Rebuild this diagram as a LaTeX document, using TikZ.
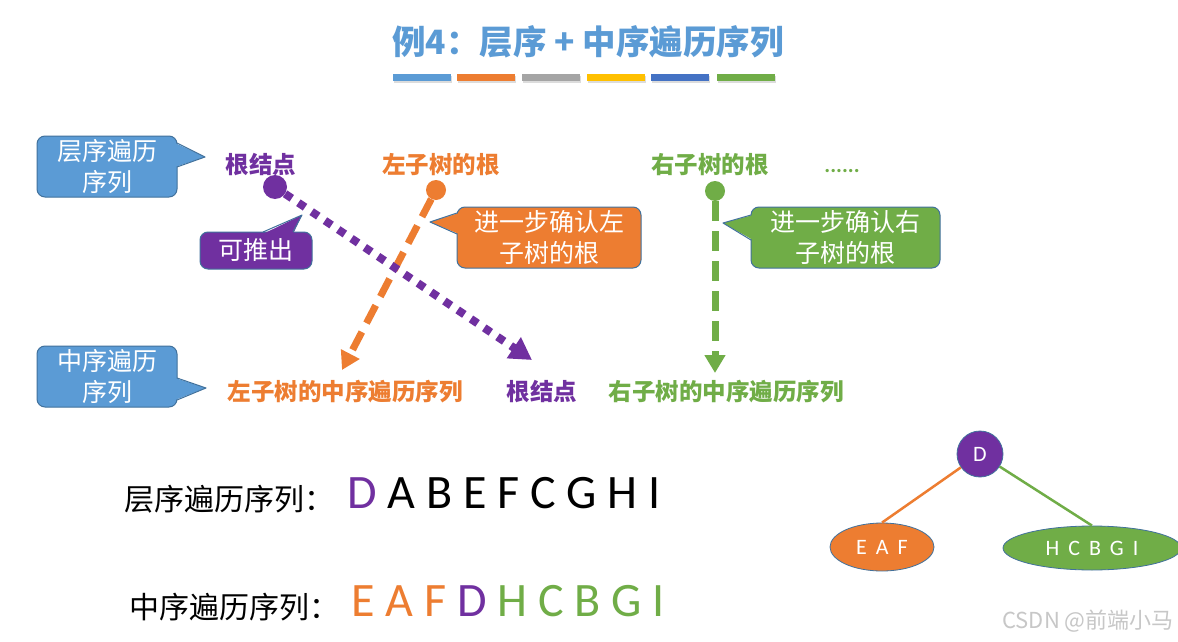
\documentclass[tikz,border=0pt]{standalone}
\usepackage{fontspec}
\setmainfont{Carlito}
\newfontfamily\cjk{Noto Sans CJK SC}
\usetikzlibrary{arrows.meta,shapes.geometric}
\definecolor{tblue}{HTML}{5B9BD5}
\definecolor{corange}{HTML}{ED7D31}
\definecolor{cgray}{HTML}{A5A5A5}
\definecolor{cyellow}{HTML}{FFC000}
\definecolor{cdblue}{HTML}{4472C4}
\definecolor{cgreen}{HTML}{70AD47}
\definecolor{cpurple}{HTML}{7030A0}
\definecolor{cborder}{HTML}{41719C}
\tikzset{
  cbox/.style={draw=cborder, line width=1pt, rounded corners=8pt, text=white,
    font=\cjk\fontsize{25}{31}\selectfont, align=center, inner sep=0pt},
  ptr/.style={draw=cborder, line width=1pt, line join=round},
  lbl/.style={font=\cjk\bfseries\fontsize{23.5}{27}\selectfont, inner sep=0pt},
  bigcn/.style={font=\cjk\fontsize{30}{34}\selectfont, inner sep=0pt, anchor=base west},
  bigltr/.style={font=\fontsize{48}{54}\selectfont, inner sep=0pt, anchor=base west},
  dotnode/.style={circle, inner sep=0pt},
  barshadow/.style={fill=black!30, opacity=0.45},
  treenode/.style={draw=cborder, line width=0.8pt, inner sep=0pt, text=white, font=\fontsize{22}{26}\selectfont},
}
\begin{document}
\begin{tikzpicture}[x=1pt,y=-1pt]
\useasboundingbox[fill=white] (0,0) rectangle (1178,642);

% title
\node[font=\cjk\bfseries\fontsize{33.5}{38}\selectfont, text=tblue, inner sep=0pt] (title) at (588,42) {例4：层序 + 中序遍历序列};

% colour bars
\foreach \xa/\c in {393/tblue,457/corange,522/cgray,587/cyellow,651/cdblue,717/cgreen}{
  \fill[barshadow] (\xa+1,76) rectangle (\xa+59,83);
  \fill[\c] (\xa,74) rectangle (\xa+58,81);
}

% top labels
\node[lbl, text=cpurple] (rootA) at (261,165) {根结点};
\node[lbl, text=corange] (lroot) at (441,165) {左子树的根};
\node[lbl, text=cgreen] (rroot) at (710,165) {右子树的根};
\node[font=\bfseries\fontsize{22}{26}\selectfont, text=cgreen, inner sep=0pt] (more) at (842,171) {......};

% bottom-row labels
\node[lbl, text=corange] (lin) at (345,392) {左子树的中序遍历序列};
\node[lbl, text=cpurple] (rootB) at (542,392) {根结点};
\node[lbl, text=cgreen] (rin) at (726,392) {右子树的中序遍历序列};

% dots and arrows
\node[dotnode, fill=corange, minimum size=20pt] (odot) at (436,190) {};
\coordinate (otip) at (342,370);
\draw[corange, line width=7pt, dash pattern=on 20pt off 10pt, -{Triangle[length=18pt,width=20pt]}] (odot) -- (otip);

\node[dotnode, fill=cpurple, minimum size=24pt] (pdot) at (275,187) {};
\coordinate (ptip) at (532,360);
\draw[cpurple, line width=8pt, dash pattern=on 8pt off 8pt, -{Triangle[length=22pt,width=24pt]}] (pdot) -- (ptip);

\node[dotnode, fill=cgreen, minimum size=20pt] (gdot) at (715,191) {};
\coordinate (gtip) at (715,373);
\draw[cgreen, line width=7pt, dash pattern=on 20pt off 10pt, -{Triangle[length=18pt,width=20pt]}] (gdot) -- (gtip);

% callout 1: 层序遍历序列
\node[cbox, fill=tblue, minimum width=140pt, minimum height=61pt] (c1) at (107,166.5) {层序遍历\\序列};
\fill[tblue] (175,143) -- (205,157) -- (175,167) -- cycle;
\draw[ptr] (177,143) -- (205,157) -- (177,167);

% callout 2: 可推出
\node[cbox, fill=cpurple, minimum width=112pt, minimum height=37pt] (c2) at (256,250.5) {可推出};
\fill[cpurple] (263,234) -- (302,215) -- (293,234) -- cycle;
\draw[ptr] (263,232) -- (302,215) -- (293,232);

% callout 3: 左
\node[cbox, fill=corange, minimum width=184pt, minimum height=61pt] (c3) at (549,237.5) {进一步确认左\\子树的根};
\fill[corange] (459,213) -- (430,222) -- (459,234) -- cycle;
\draw[ptr] (457,213) -- (430,222) -- (457,234);

% callout 4: 右
\node[cbox, fill=cgreen, minimum width=189pt, minimum height=61pt] (c4) at (845.5,237.5) {进一步确认右\\子树的根};
\fill[cgreen] (753,215) -- (723,223) -- (753,240) -- cycle;
\draw[ptr] (751,215) -- (723,223) -- (751,240);

% callout 5: 中序遍历序列
\node[cbox, fill=tblue, minimum width=140pt, minimum height=61pt] (c5) at (107,376.5) {中序遍历\\序列};
\fill[tblue] (175,378) -- (206,388) -- (175,400) -- cycle;
\draw[ptr] (177,378) -- (206,388) -- (177,400);

% sequences
\node[bigcn] (lvlname) at (124,510) {层序遍历序列：};
\node[bigltr] (lvlseq) at (347,508) {\textcolor{cpurple}{D} A B E F C G H I};
\node[bigcn] (inname) at (129,618) {中序遍历序列：};
\node[bigltr] (inseq) at (351,616) {\textcolor{corange}{E A F} \textcolor{cpurple}{D} \textcolor{cgreen}{H C B G I}};

% tree
\node[treenode, circle, fill=cpurple, minimum size=46pt] (D) at (980,454) {D};
\node[treenode, ellipse, fill=corange, minimum width=104pt, minimum height=48pt] (EAF) at (882,547) {{\spaceskip=9pt E A F}};
\node[treenode, ellipse, fill=cgreen, minimum width=178pt, minimum height=44pt] (HCB) at (1092,548) {{\spaceskip=9pt H C B G I}};
\draw[corange, line width=2.5pt] (D) -- (EAF.north);
\draw[cgreen, line width=2.5pt] (D) -- (HCB.north);

% watermark
\node[font=\cjk\fontsize{22}{26}\selectfont, text=black!22, inner sep=0pt] (wm) at (1088,621) {CSDN @前端小马};
\end{tikzpicture}
\end{document}
